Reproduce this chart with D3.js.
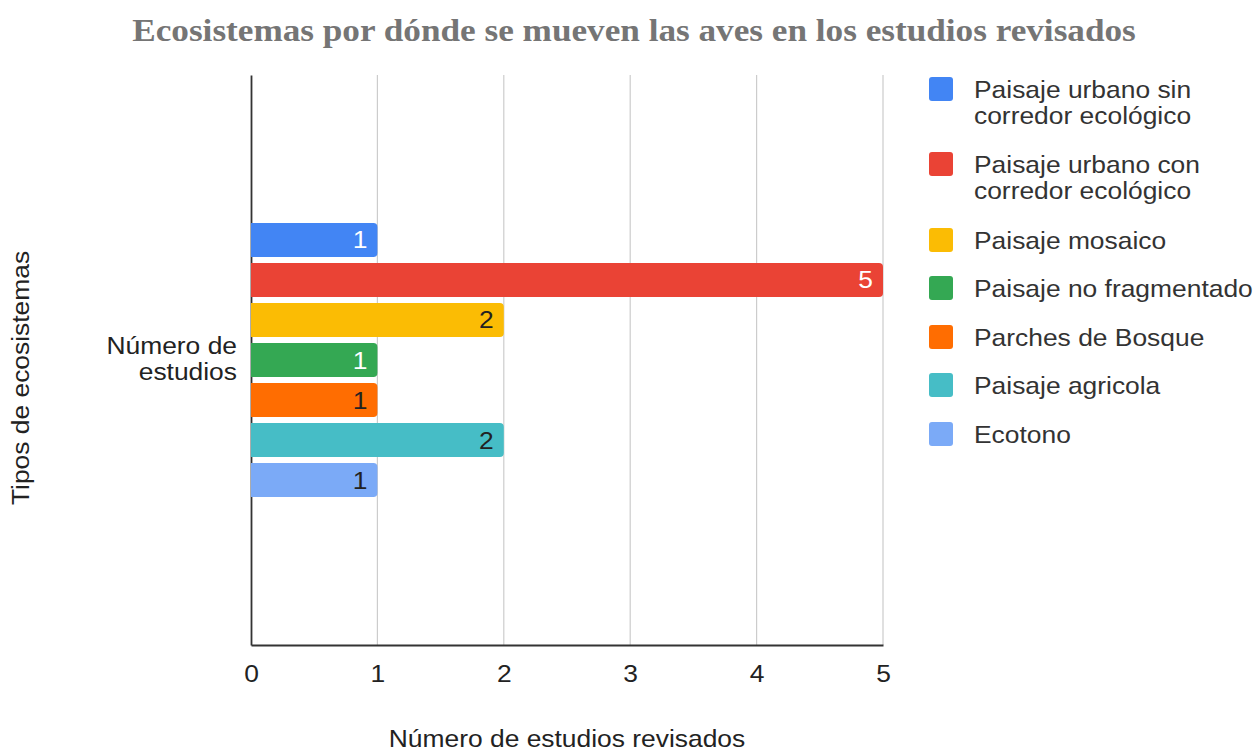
<!DOCTYPE html>
<html><head><meta charset="utf-8">
<script src="https://cdn.jsdelivr.net/npm/d3@7"></script>
<style>body{margin:0;background:#fff}svg{display:block}text{font-family:"Liberation Sans",Arial,sans-serif}</style>
</head><body><div id="chart"></div>
<script>
const title = "Ecosistemas por dónde se mueven las aves en los estudios revisados";
const categories = ["Número de estudios"];
const categoryLines = ["Número de","estudios"];
const seriesNames = ["Paisaje urbano sin corredor ecológico","Paisaje urbano con corredor ecológico","Paisaje mosaico","Paisaje no fragmentado","Parches de Bosque","Paisaje agricola","Ecotono"];
const legendLines = [["Paisaje urbano sin","corredor ecológico"],["Paisaje urbano con","corredor ecológico"],["Paisaje mosaico"],["Paisaje no fragmentado"],["Parches de Bosque"],["Paisaje agricola"],["Ecotono"]];
const seriesValues = [1,5,2,1,1,2,1];
const seriesColors = ["#4285f4","#ea4335","#fbbc04","#34a853","#ff6d01","#46bdc6","#7baaf7"];
const labelColors = ["#ffffff","#ffffff","#222222","#ffffff","#222222","#222222","#222222"];
const xTicks = [0,1,2,3,4,5];
const xTitle = "Número de estudios revisados";
const yTitle = "Tipos de ecosistemas";

const W = 1257, H = 751;
const SX = 1.1; // horizontal stretch of text
const FS = 24;
const m = {left:251, right:374, top:75, bottom:106};
const svg = d3.select("#chart").append("svg").attr("width",W).attr("height",H);

const x = d3.scaleLinear().domain([0,5]).range([m.left, W-m.right]);
const y0 = d3.scaleBand().domain(categories).range([m.top, H-m.bottom]).paddingOuter(0.54).paddingInner(0);
const y1 = d3.scaleBand().domain(seriesNames).range([0, y0.bandwidth()]).paddingInner(0.15).paddingOuter(0);

function txt(parent, px, py, s, anchor, size, fill, rot){
  return parent.append("text")
    .attr("transform",`translate(${px},${py})${rot?` rotate(${rot})`:""} scale(${SX},1)`)
    .attr("text-anchor",anchor||"start").style("font-size",(size||FS)+"px")
    .attr("fill",fill||"#222").text(s);
}

// title
txt(svg,634,41,title,"middle",32,"#757575")
  .style("font-family","'Liberation Serif','Times New Roman',serif").style("font-weight","bold");

// gridlines
svg.append("g").selectAll("line").data(xTicks.filter(d=>d>0)).join("line")
  .attr("x1",d=>x(d)).attr("x2",d=>x(d)).attr("y1",m.top).attr("y2",H-m.bottom)
  .attr("stroke","#cccccc").attr("stroke-width",1.2);

// x axis
const xAxis = svg.append("g").attr("transform",`translate(0,${H-m.bottom})`)
  .call(d3.axisBottom(x).tickValues(xTicks).tickFormat(d3.format("d")).tickSize(0).tickPadding(20));
xAxis.select(".domain").attr("stroke","#333").attr("stroke-width",1.8);
xAxis.selectAll("text").style("font-size",FS+"px").attr("fill","#222")
  .style("font-family","'Liberation Sans',Arial,sans-serif").attr("transform",`scale(${SX},1)`);

// y axis
const yAxis = svg.append("g").attr("transform",`translate(${m.left},0)`)
  .call(d3.axisLeft(y0).tickSize(0).tickFormat(""));
yAxis.select(".domain").attr("stroke","#333").attr("stroke-width",1.8);
const cy = y0(categories[0]) + y0.bandwidth()/2;
categoryLines.forEach((ln,i)=>txt(svg,237,cy-6+i*26,ln,"end"));

// bars
const g = svg.append("g").attr("transform",`translate(0,${y0(categories[0])})`);
const r = 4;
g.selectAll("path.bar").data(seriesNames).join("path").attr("class","bar")
  .attr("fill",(d,i)=>seriesColors[i])
  .attr("d",(d,i)=>{
    const x0 = x(0), x1 = x(seriesValues[i]), yt = y1(d), h = y1.bandwidth();
    return `M${x0},${yt}H${x1-r}Q${x1},${yt} ${x1},${yt+r}V${yt+h-r}Q${x1},${yt+h} ${x1-r},${yt+h}H${x0}Z`;
  });
seriesNames.forEach((d,i)=>{
  txt(g, x(seriesValues[i])-10, y1(d)+y1.bandwidth()/2+8.5, String(seriesValues[i]), "end", FS, labelColors[i]);
});

// axis titles
txt(svg,(x(0)+x(5))/2,747,xTitle,"middle");
txt(svg,29,cy+18,yTitle,"middle",FS,"#222",-90);

// legend
const legTops = [77,152,228,276,325,373,422];
const lg = svg.append("g");
seriesNames.forEach((s,i)=>{
  lg.append("rect").attr("x",929).attr("y",legTops[i]).attr("width",24).attr("height",24).attr("rx",3)
    .attr("fill",seriesColors[i]);
  legendLines[i].forEach((ln,j)=>txt(lg,974,legTops[i]+21+j*26,ln,"start",FS,"#333"));
});
</script></body></html>
